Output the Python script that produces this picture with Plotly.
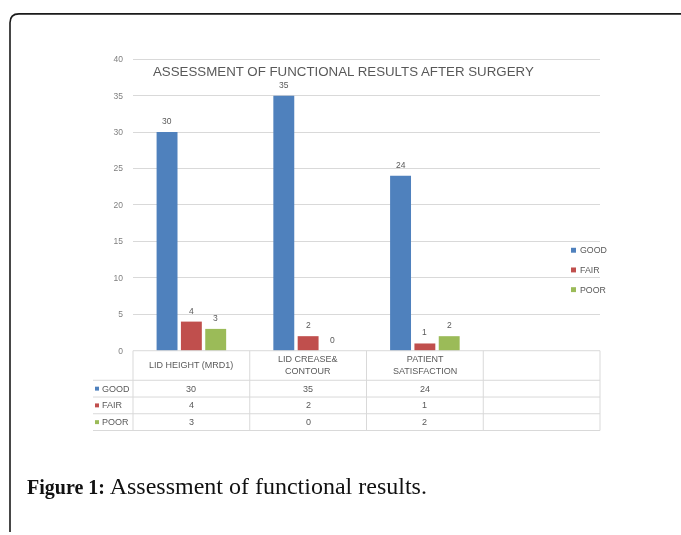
import plotly.graph_objects as go

# Data
categories = ["LID HEIGHT (MRD1)", "LID CREASE&<br>CONTOUR", "PATIENT<br>SATISFACTION"]
series_names = ["GOOD", "FAIR", "POOR"]
good = [30, 35, 24]
fair = [4, 2, 1]
poor = [3, 0, 2]
series_values = [good, fair, poor]
colors = ["#4F81BD", "#C0504D", "#9BBB59"]
y_ticks = [0, 5, 10, 15, 20, 25, 30, 35, 40]

W, H = 681, 535


def px(x):
    return x / W


def py(y):
    return 1 - y / H


GRAY = "#7f7f7f"
TXT = "#595959"
GRID = "#d9d9d9"
FONT = "Liberation Sans"

# plot area in pixels (value 0 at Y_ZERO, value 40 at Y_40)
X0, X1 = 133, 600
Y_40, Y_ZERO = 57, 353
Y_MAX = 40.3  # a little headroom so the top gridline is drawn
Y_TOP = Y_ZERO - (Y_ZERO - Y_40) * Y_MAX / 40
ncols = 4  # three categories plus an empty column
col_w = (X1 - X0) / ncols
BARGAP, GROUPGAP = 0.375, 0.14

fig = go.Figure()
for name, vals, c in zip(series_names, series_values, colors):
    fig.add_trace(go.Bar(
        x=list(range(len(vals))), y=vals, name=name, marker_color=c,
        marker_line_width=0, showlegend=False, hoverinfo="x+y+name",
    ))

shapes = []
annotations = []

# frame with rounded top-left corner (shape 0, kept crisp)
r = 9
fx, fy = 10, 11
shapes.append(dict(
    type="path", xref="paper", yref="paper",
    path=(f"M {px(fx)} {py(H + 2)} L {px(fx)} {py(fy + r)} "
          f"Q {px(fx)} {py(fy)} {px(fx + r)} {py(fy)} L {px(W + 2)} {py(fy)}"),
    line=dict(color="#1a1a1a", width=1.6),
))

# value labels above each bar
slot = (1 - BARGAP) / len(series_names)
for i, vals in enumerate(series_values):
    for j, v in enumerate(vals):
        annotations.append(dict(
            x=j + (i - (len(series_names) - 1) / 2) * slot, y=v,
            xref="x", yref="y", text=str(v), showarrow=False,
            xanchor="center", yanchor="middle", yshift=11,
            font=dict(size=8.5, color=TXT, family=FONT)))

# data table beneath the plot
row_y = [353, 383, 400, 417, 434]
col_x = [X0 + i * col_w for i in range(ncols + 1)]
for i, y in enumerate(row_y):
    x_start = 93 if i >= 1 else X0
    shapes.append(dict(type="line", xref="paper", yref="paper",
                       x0=px(x_start), x1=px(X1), y0=py(y), y1=py(y),
                       line=dict(color=GRID, width=1)))
for x in col_x:
    shapes.append(dict(type="line", xref="paper", yref="paper",
                       x0=px(x), x1=px(x), y0=py(row_y[0]), y1=py(row_y[-1]),
                       line=dict(color=GRID, width=1)))

tfont = dict(size=9, color=TXT, family=FONT)
for j, cat in enumerate(categories):
    cx = X0 + (j + 0.5) * col_w
    annotations.append(dict(x=px(cx), y=py((row_y[0] + row_y[1]) / 2),
                            xref="paper", yref="paper", text=cat, showarrow=False,
                            xanchor="center", yanchor="middle",
                            font=tfont, align="center"))
    for i, vals in enumerate(series_values):
        annotations.append(dict(x=px(cx), y=py((row_y[i + 1] + row_y[i + 2]) / 2),
                                xref="paper", yref="paper", text=str(vals[j]),
                                xanchor="center", yanchor="middle",
                                showarrow=False, font=tfont))

# row labels with colour keys
for i, (name, c) in enumerate(zip(series_names, colors)):
    yc = (row_y[i + 1] + row_y[i + 2]) / 2
    shapes.append(dict(type="rect", xref="paper", yref="paper",
                       x0=px(95), x1=px(99), y0=py(yc + 2), y1=py(yc - 2),
                       fillcolor=c, line_width=0))
    annotations.append(dict(x=px(100), y=py(yc), xref="paper", yref="paper",
                            text=name, showarrow=False, xanchor="left",
                            yanchor="middle", font=tfont))

# legend
for i, (name, c) in enumerate(zip(series_names, colors)):
    yc = 251 + 20 * i
    shapes.append(dict(type="rect", xref="paper", yref="paper",
                       x0=px(571), x1=px(576), y0=py(yc + 2.5), y1=py(yc - 2.5),
                       fillcolor=c, line_width=0))
    annotations.append(dict(x=px(577.5), y=py(yc), xref="paper", yref="paper",
                            text=name, showarrow=False, xanchor="left",
                            yanchor="middle",
                            font=dict(size=8.8, color=TXT, family=FONT)))

# chart title
annotations.append(dict(x=px(343), y=py(70), xref="paper", yref="paper",
                        text="ASSESSMENT OF FUNCTIONAL RESULTS AFTER SURGERY",
                        showarrow=False, xanchor="center", yanchor="middle",
                        font=dict(size=13.3, color=TXT, family=FONT)))

# figure caption (last annotation, kept crisp)
annotations.append(dict(x=px(25), y=py(490), xref="paper", yref="paper",
                        text=("<b><span style='font-size:20px'>Figure 1:</span></b>"
                              " Assessment of functional results."),
                        showarrow=False, xanchor="left", yanchor="middle",
                        font=dict(size=24, color="#111111", family="Liberation Serif")))
caption_index = len(annotations) - 1

fig.update_layout(
    width=W, height=H, margin=dict(l=0, r=0, t=0, b=0),
    paper_bgcolor="white", plot_bgcolor="white",
    barmode="group", bargap=BARGAP, bargroupgap=GROUPGAP,
    shapes=shapes, annotations=annotations,
    xaxis=dict(domain=[px(X0), px(X1)], range=[-0.5, ncols - 0.5],
               showticklabels=False, showgrid=False, zeroline=False,
               fixedrange=True),
    yaxis=dict(domain=[py(Y_ZERO), py(Y_TOP)], range=[0, Y_MAX], tickvals=y_ticks,
               showgrid=True, gridcolor=GRID, gridwidth=1, zeroline=False,
               tickfont=dict(size=8.5, color=GRAY, family=FONT),
               ticklabelstandoff=9, fixedrange=True),
)

# soften the chart graphics (the frame and caption stay sharp)
post_script = """
(function(){
  var gd = document.getElementById('{plot_id}');
  var ns = 'http://www.w3.org/2000/svg';
  function soften(){
    var svg = gd.querySelector('svg.main-svg');
    if (!document.getElementById('softblur')) {
      var defs = document.createElementNS(ns, 'defs');
      var f = document.createElementNS(ns, 'filter');
      f.setAttribute('id', 'softblur');
      f.setAttribute('filterUnits', 'userSpaceOnUse');
      f.setAttribute('x', '0'); f.setAttribute('y', '0');
      f.setAttribute('width', '%d'); f.setAttribute('height', '%d');
      var b = document.createElementNS(ns, 'feGaussianBlur');
      b.setAttribute('stdDeviation', '0.75');
      f.appendChild(b); defs.appendChild(f); svg.appendChild(defs);
    }
    gd.querySelectorAll('.cartesianlayer').forEach(function(el){
      el.setAttribute('filter', 'url(#softblur)');
    });
    gd.querySelectorAll('.annotation').forEach(function(el){
      if (el.getAttribute('data-index') !== '%d') el.setAttribute('filter', 'url(#softblur)');
    });
    gd.querySelectorAll('.shapelayer path').forEach(function(el){
      if (el.getAttribute('data-index') !== '0') el.setAttribute('filter', 'url(#softblur)');
    });
  }
  soften();
  gd.on('plotly_afterplot', soften);
})();
""" % (W, H, caption_index)

fig.write_html("out.html", post_script=post_script)
